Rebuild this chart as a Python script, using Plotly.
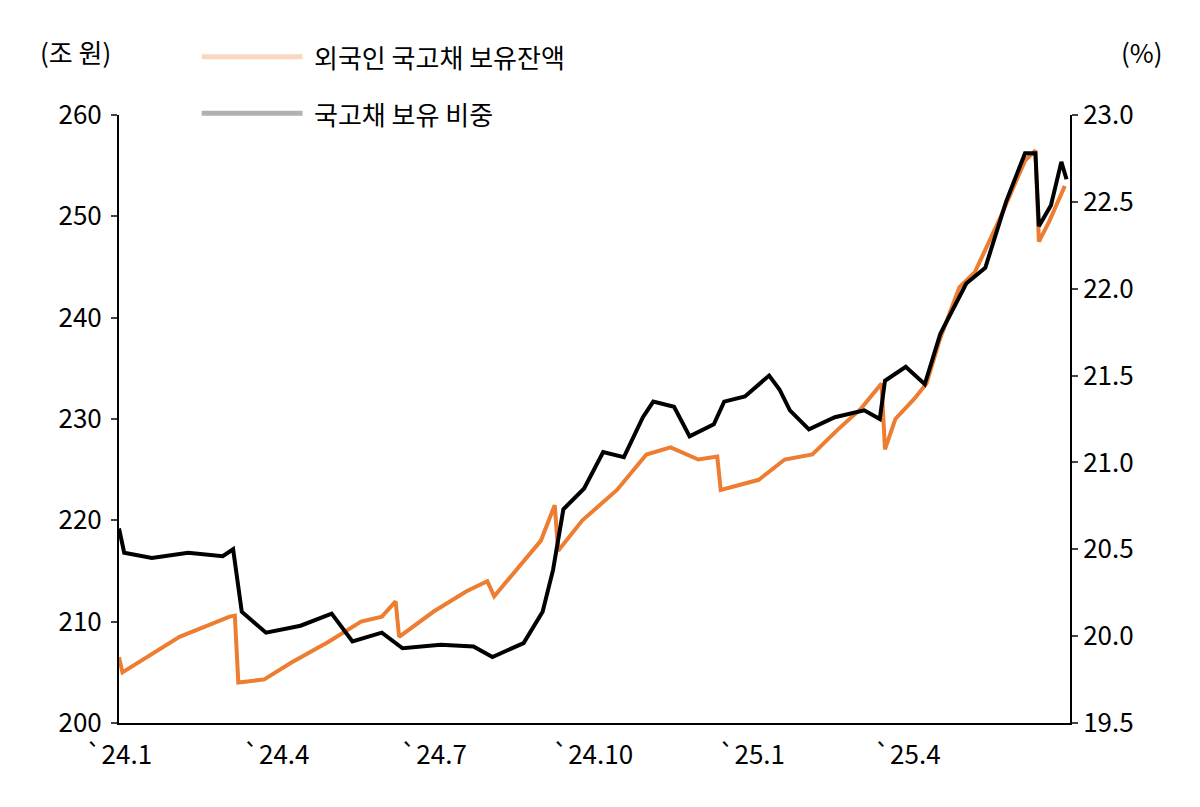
import plotly.graph_objects as go

hold_dates = ["2024-01-01","2024-01-03","2024-02-05","2024-03-05","2024-03-08","2024-03-10","2024-03-25","2024-04-10","2024-05-01","2024-05-20","2024-06-01","2024-06-09","2024-06-11","2024-07-01","2024-07-20","2024-08-01","2024-08-05","2024-08-20","2024-09-01","2024-09-09","2024-09-11","2024-09-25","2024-10-15","2024-11-01","2024-11-15","2024-12-01","2024-12-12","2024-12-14","2025-01-05","2025-01-20","2025-02-05","2025-02-20","2025-03-05","2025-03-17","2025-03-19","2025-03-25","2025-04-05","2025-04-12","2025-04-20","2025-05-01","2025-05-10","2025-05-25","2025-06-08","2025-06-14","2025-06-16","2025-06-22","2025-07-01"]
hold_vals = [206.5,205.0,208.5,210.5,210.6,204.0,204.3,206.0,208.0,210.0,210.5,212.0,208.5,211.0,213.0,214.0,212.5,215.5,218.0,221.5,217.0,220.0,223.0,226.5,227.2,226.0,226.3,223.0,224.0,226.0,226.5,229.0,231.0,233.5,227.0,230.0,232.0,233.5,238.0,243.0,244.5,250.0,255.5,256.5,247.5,249.5,253.0]

share_dates = ["2024-01-01","2024-01-04","2024-01-20","2024-02-10","2024-03-01","2024-03-07","2024-03-12","2024-03-26","2024-04-15","2024-05-03","2024-05-15","2024-06-01","2024-06-13","2024-07-05","2024-07-24","2024-08-04","2024-08-22","2024-09-02","2024-09-08","2024-09-14","2024-09-26","2024-10-07","2024-10-19","2024-10-30","2024-11-05","2024-11-17","2024-11-26","2024-12-10","2024-12-16","2024-12-28","2025-01-11","2025-01-17","2025-01-23","2025-02-03","2025-02-18","2025-03-07","2025-03-16","2025-03-19","2025-03-31","2025-04-11","2025-04-20","2025-04-29","2025-05-05","2025-05-16","2025-05-28","2025-06-08","2025-06-14","2025-06-16","2025-06-23","2025-06-29","2025-07-02"]
share_vals = [20.62,20.48,20.45,20.48,20.46,20.50,20.14,20.02,20.06,20.13,19.97,20.02,19.93,19.95,19.94,19.88,19.96,20.14,20.38,20.73,20.85,21.06,21.03,21.26,21.35,21.32,21.15,21.22,21.35,21.38,21.50,21.42,21.30,21.19,21.26,21.30,21.25,21.47,21.55,21.45,21.74,21.92,22.03,22.12,22.50,22.78,22.78,22.36,22.48,22.73,22.63]

tick_vals = ["2024-01-01","2024-04-01","2024-07-01","2024-10-01","2025-01-01","2025-04-01"]
tick_text = ["`24.1","`24.4","`24.7","`24.10","`25.1","`25.4"]
names = ["외국인 국고채 보유잔액", "국고채 보유 비중"]
colors = ["#ED7D31", "black"]

font = dict(family="Noto Sans CJK KR", size=26, color="black")
fig = go.Figure()
fig.add_trace(go.Scatter(x=hold_dates, y=hold_vals, name=names[0],
                         line=dict(color=colors[0], width=4), mode="lines"))
fig.add_trace(go.Scatter(x=share_dates, y=share_vals, name=names[1], yaxis="y2",
                         line=dict(color=colors[1], width=4), mode="lines"))

shapes, annots = [], []
for i, (nm, c) in enumerate(zip(names, colors)):
    yy = [1.096, 1.003][i]
    shapes.append(dict(type="line", xref="paper", yref="paper", x0=0.087, x1=0.193, y0=yy, y1=yy,
                       line=dict(color=c, width=5)))
    annots.append(dict(text=nm, xref="paper", yref="paper", x=0.203, y=yy, xanchor="left",
                       yanchor="middle", showarrow=False, font=font))
annots += [
    dict(text="(조 원)", xref="paper", yref="paper", x=-0.085, y=1.104, showarrow=False,
         xanchor="left", yanchor="middle", font=font),
    dict(text="(%)", xref="paper", yref="paper", x=1.076, y=1.104, showarrow=False,
         xanchor="center", yanchor="middle", font=font),
]

fig.update_layout(
    width=1200, height=807, template="simple_white", font=font, showlegend=False,
    margin=dict(l=111, r=138, t=107, b=92),
    xaxis=dict(range=["2024-01-01","2025-07-04"], tickvals=tick_vals, ticktext=tick_text,
               showline=True, linecolor="black", linewidth=2, ticks="", showgrid=False,
               ticklabelstandoff=8),
    yaxis=dict(range=[200, 260], dtick=10, showline=True, linecolor="black", linewidth=2,
               ticks="outside", ticklen=6, tickwidth=2, ticklabelstandoff=4),
    yaxis2=dict(range=[19.5, 23.0], dtick=0.5, tickformat=".1f", overlaying="y", side="right",
                showline=True, linecolor="black", linewidth=2, ticks="outside", ticklen=6, tickwidth=2),
    shapes=shapes, annotations=annots,
)
fig.write_html("out.html")
